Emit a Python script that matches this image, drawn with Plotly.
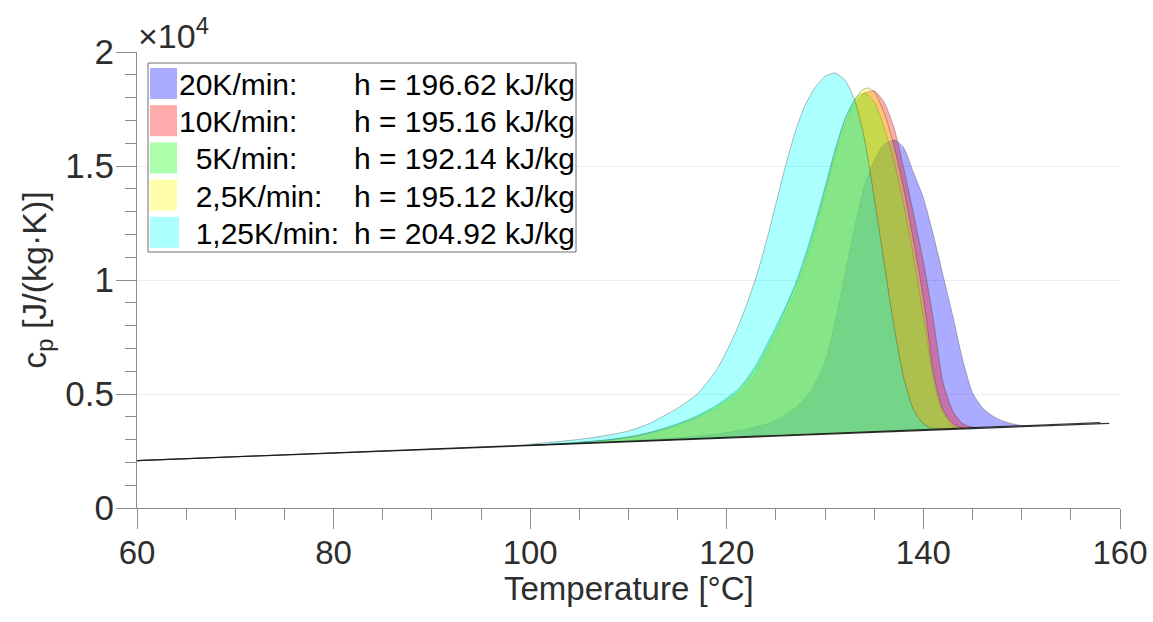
import plotly.graph_objects as go

# ---------------- data ----------------
rate_labels = ["20K/min:", "10K/min:", "\u00a0\u00a05K/min:", "\u00a0\u00a02,5K/min:", "\u00a0\u00a01,25K/min:"]
enthalpy_kJkg = [196.62, 195.16, 192.14, 195.12, 204.92]

# 20 K/min
T_20 = [100, 105, 110, 115, 118, 120, 122, 124, 125.5, 127, 128.5, 130, 131, 132, 133, 134, 135, 136,
        137.1, 138, 139, 140, 141, 142, 143, 144, 145, 146, 147, 148, 149, 150, 152]
cp_20 = [2744, 2850, 2960, 3080, 3200, 3310, 3460, 3680, 3950, 4400, 5100, 6400, 8100, 10200, 12300,
         14150, 15250, 15950, 16140, 15800, 14700, 13600, 12000, 10200, 8400, 6500, 5050, 4400, 4050,
         3830, 3700, 3620, 3624]

# 10 K/min
T_10 = [100, 104, 108, 111, 113, 115, 117, 119, 121, 122, 123, 124, 125, 126, 127, 128, 129, 130, 131,
        132, 133, 134, 135, 136, 137, 138, 139, 140, 141, 142, 143, 144, 145.5]
cp_10 = [2744, 2840, 2980, 3160, 3360, 3620, 3950, 4380, 4950, 5420, 6000, 6800, 7650, 8550, 9550,
         10750, 12150, 13750, 15400, 16800, 17750, 18200, 18290, 17800, 16700, 14900, 12900, 10800,
         8300, 5500, 4250, 3700, 3500]

# 5 K/min
T_5 = [100, 104, 108, 111, 113, 115, 117, 119, 121, 122, 123, 124, 125, 126, 127, 128, 129, 130, 131,
       132, 133, 133.6, 134.1, 135, 136, 137, 138, 139, 140, 141, 141.5, 142, 143, 144]
cp_5 = [2744, 2850, 3000, 3200, 3420, 3700, 4050, 4520, 5150, 5650, 6300, 7100, 7950, 8850, 9850,
        11100, 12550, 14100, 15700, 17050, 17900, 18150, 18200, 17800, 16700, 15200, 13300, 11000,
        8400, 5700, 4800, 4200, 3600, 3474]

# 2.5 K/min
T_25 = [100, 104, 108, 111, 113, 115, 117, 119, 121, 122, 123, 124, 125, 126, 127, 128, 129, 130, 131,
        132, 133, 133.7, 134.3, 135, 136, 137, 138, 139, 140, 141, 141.5, 142, 143, 144.2]
cp_25 = [2744, 2845, 2990, 3180, 3390, 3660, 4000, 4450, 5050, 5550, 6150, 6950, 7800, 8750, 9750,
         10950, 12350, 13950, 15600, 17000, 17900, 18300, 18420, 18250, 17350, 15900, 14000, 11700,
         9200, 6000, 5000, 4300, 3700, 3477]

# 1.25 K/min
T_125 = [98, 102, 105, 108, 110, 112, 113.2, 115, 117, 118, 119, 120, 121, 122, 123, 124, 125, 126,
         127, 128, 129, 130, 131, 132, 133, 134, 135, 136, 137, 138, 139, 140, 141, 142]
cp_125 = [2711, 2880, 3010, 3200, 3380, 3680, 3950, 4380, 5000, 5500, 6080, 6900, 7800, 8900, 10150,
          11650, 13350, 15050, 16550, 17700, 18450, 18930, 19080, 18780, 17900, 16200, 13600, 10750,
          8000, 5700, 4300, 3700, 3480, 3461]

# sensible-heat baselines (black lines)
base1_T = [60, 158.9]
base1_cp = [2080, 3715]
base2_T = [60, 158.0]
base2_cp = [2080, 3742]

series_T = [T_20, T_10, T_5, T_25, T_125]
series_cp = [cp_20, cp_10, cp_5, cp_25, cp_125]

# ---------------- style ----------------
fill_colors = ["rgba(0,0,255,0.33)", "rgba(255,0,0,0.33)", "rgba(0,255,0,0.33)",
               "rgba(255,255,0,0.33)", "rgba(0,255,255,0.33)"]
edge_color = "rgba(40,40,40,0.4)"
FONT = "Liberation Sans, Arial, Helvetica, sans-serif"
AX = "rgb(140,140,140)"
TXT = "rgb(45,45,45)"

W, H = 1153, 622
ML, MR, MT, MB = 137, 33, 52, 114
PW, PH = W - ML - MR, H - MT - MB


def px_x(px):
    return (px - ML) / PW


def px_y(py):
    return (H - MB - py) / PH


fig = go.Figure()

for T, cp, col in zip(series_T, series_cp, fill_colors):
    # chord along the baseline between the first and last points of the peak
    fig.add_trace(go.Scatter(x=[T[0], T[-1]], y=[cp[0], cp[-1]], mode="lines",
                             line=dict(width=0, color="rgba(0,0,0,0)"),
                             showlegend=False, hoverinfo="skip"))
    fig.add_trace(go.Scatter(x=T, y=cp, mode="lines", fill="tonexty", fillcolor=col,
                             line=dict(color=edge_color, width=0.8, shape="spline", smoothing=0.6),
                             showlegend=False))

for bT, bcp in [(base1_T, base1_cp), (base2_T, base2_cp)]:
    fig.add_trace(go.Scatter(x=bT, y=bcp, mode="lines",
                             line=dict(color="rgba(20,20,20,0.85)", width=1.2),
                             showlegend=False, hoverinfo="skip"))

# ---------------- legend drawn as box + patches + text ----------------
shapes = []
annotations = []
box_l, box_r, box_t, box_b = 148, 576, 63, 252
shapes.append(dict(type="rect", xref="paper", yref="paper",
                   x0=px_x(box_l), x1=px_x(box_r), y0=px_y(box_b), y1=px_y(box_t),
                   line=dict(color="rgb(110,110,110)", width=1), fillcolor="white", layer="above"))
row0, row_h, patch_h = 68, 37.2, 31
for i, (lab, h, col) in enumerate(zip(rate_labels, enthalpy_kJkg, fill_colors)):
    top = row0 + i * row_h
    shapes.append(dict(type="rect", xref="paper", yref="paper",
                       x0=px_x(150), x1=px_x(177 if i < 4 else 179),
                       y0=px_y(top + patch_h), y1=px_y(top),
                       line=dict(width=0), fillcolor=col, layer="above"))
    yc = px_y(top + patch_h / 2 + 1)
    annotations.append(dict(xref="paper", yref="paper", x=px_x(177), y=yc,
                            xanchor="left", yanchor="middle", showarrow=False,
                            text=lab, font=dict(family=FONT, size=30, color="black")))
    annotations.append(dict(xref="paper", yref="paper", x=px_x(352), y=yc,
                            xanchor="left", yanchor="middle", showarrow=False,
                            text=f"h = {h:.2f} kJ/kg", font=dict(family=FONT, size=30, color="black")))

# exponent marker of the y axis
annotations.append(dict(xref="paper", yref="paper", x=px_x(136), y=1, xanchor="left",
                        yanchor="bottom", showarrow=False, yshift=-5,
                        text="\u00d710<sup>4</sup>", font=dict(family=FONT, size=34, color=TXT)))
# x axis title
annotations.append(dict(xref="paper", yref="paper", x=0.5, y=px_y(588), xanchor="center",
                        yanchor="middle", showarrow=False,
                        text="Temperature [°C]", font=dict(family=FONT, size=33, color=TXT)))

fig.update_layout(
    width=W, height=H,
    margin=dict(l=ML, r=MR, t=MT, b=MB, pad=0),
    paper_bgcolor="white", plot_bgcolor="white",
    font=dict(family=FONT, color=TXT),
    shapes=shapes, annotations=annotations,
    showlegend=False,
)
fig.update_xaxes(range=[60, 160], tickvals=[60, 80, 100, 120, 140, 160], automargin=False,
                 showgrid=False, zeroline=False, showline=True, linecolor=AX, linewidth=1,
                 ticks="outside", ticklen=20, tickcolor=AX, tickwidth=1, ticklabelstandoff=-5,
                 minor=dict(ticks="outside", ticklen=11, dtick=5, tickcolor=AX, showgrid=False),
                 tickfont=dict(family=FONT, size=33, color=TXT))
fig.update_yaxes(range=[0, 20000], tickvals=[0, 5000, 10000, 15000, 20000], automargin=False,
                 ticktext=["0", "0.5", "1", "1.5", "2"],
                 showgrid=True, gridcolor="rgb(236,236,236)", gridwidth=1,
                 zeroline=False, showline=True, linecolor=AX, linewidth=1,
                 ticks="outside", ticklen=20, tickcolor=AX, tickwidth=1, ticklabelstandoff=-5,
                 minor=dict(ticks="outside", ticklen=11, dtick=1000, tickcolor=AX, showgrid=False),
                 tickfont=dict(family=FONT, size=35, color=TXT),
                 title=dict(text="c<sub>p</sub> [J/(kg·K)]", font=dict(family=FONT, size=34, color=TXT),
                            standoff=8))

fig.write_html("out.html")
